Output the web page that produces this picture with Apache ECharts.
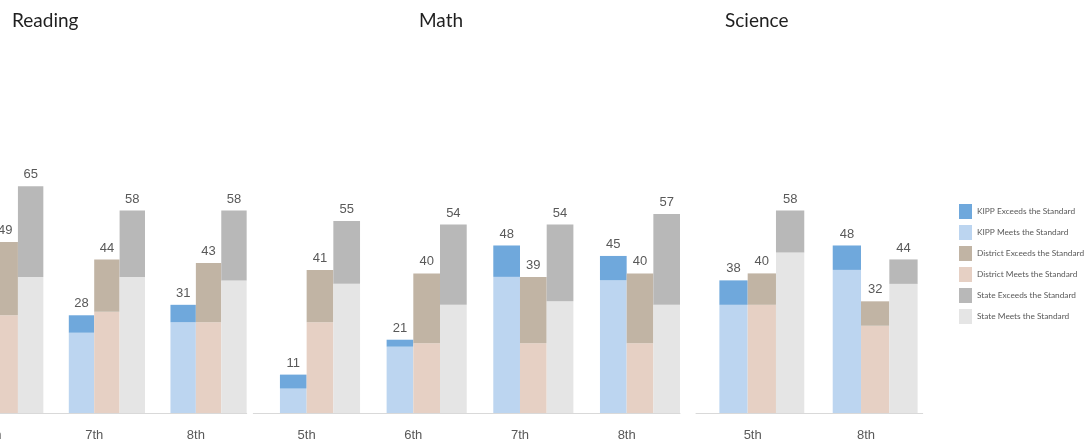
<!DOCTYPE html>
<html>
<head>
<meta charset="utf-8">
<script src="https://cdn.jsdelivr.net/npm/echarts@6/dist/echarts.min.js"></script>
<style>html,body{margin:0;padding:0;background:#fff;overflow:hidden;}#c{width:1147px;height:443px;margin-left:-59px;}</style>
</head>
<body>
<div id="c"></div>
<script>
// ---- Data ----
const seriesNames = ['KIPP Exceeds the Standard','KIPP Meets the Standard','District Exceeds the Standard','District Meets the Standard','State Exceeds the Standard','State Meets the Standard'];
const panelTitles = ['Reading','Math','Science'];

const categoriesReading = ['6th','7th','8th'];
const kippMeetsReading = [null, 23, 26];
const kippExceedsReading = [null, 5, 5];
const districtMeetsReading = [28, 29, 26];
const districtExceedsReading = [21, 15, 17];
const stateMeetsReading = [39, 39, 38];
const stateExceedsReading = [26, 19, 20];

const categoriesMath = ['5th','6th','7th','8th'];
const kippMeetsMath = [7, 19, 39, 38];
const kippExceedsMath = [4, 2, 9, 7];
const districtMeetsMath = [26, 20, 20, 20];
const districtExceedsMath = [15, 20, 19, 20];
const stateMeetsMath = [37, 31, 32, 31];
const stateExceedsMath = [18, 23, 22, 26];

const categoriesScience = ['5th','8th'];
const kippMeetsScience = [31, 41];
const kippExceedsScience = [7, 7];
const districtMeetsScience = [31, 25];
const districtExceedsScience = [9, 7];
const stateMeetsScience = [46, 37];
const stateExceedsScience = [12, 7];

// ---- Styling ----
const SHIFT = 59; // chart canvas is shifted left by this many px (reference is cropped)
const colors = {
  kippEx: '#6fa8dc', kippMe: '#bcd5f0',
  distEx: '#c1b4a4', distMe: '#e6d0c4',
  stateEx: '#b8b8b8', stateMe: '#e5e5e5'
};

const panels = [
  {cats: categoriesReading, km: kippMeetsReading, ke: kippExceedsReading, dm: districtMeetsReading, de: districtExceedsReading, sm: stateMeetsReading, se: stateExceedsReading,
   left: -58.3, width: 305, barW: 25.4, dummyW: 25.4},
  {cats: categoriesMath, km: kippMeetsMath, ke: kippExceedsMath, dm: districtMeetsMath, de: districtExceedsMath, sm: stateMeetsMath, se: stateExceedsMath,
   left: 253.3, width: 426.7, barW: 26.7, dummyW: 26.7},
  {cats: categoriesScience, km: kippMeetsScience, ke: kippExceedsScience, dm: districtMeetsScience, de: districtExceedsScience, sm: stateMeetsScience, se: stateExceedsScience,
   left: 696, width: 226.7, barW: 28.3, dummyW: 18.3}
];

const grids = [], xAxes = [], yAxes = [], series = [];
panels.forEach((p, i) => {
  grids.push({left: p.left + SHIFT, width: p.width, top: 64, height: 349, containLabel: false});
  xAxes.push({
    type: 'category', gridIndex: i, data: p.cats,
    axisTick: {show: false},
    axisLine: {lineStyle: {color: '#d9d9d9', width: 1}},
    axisLabel: {color: '#595959', fontSize: 13, fontFamily: 'Liberation Sans, Arial, sans-serif', margin: 16}
  });
  yAxes.push({type: 'value', gridIndex: i, min: 0, max: 100, show: false, splitLine: {show: false}});
  const base = {type: 'bar', xAxisIndex: i, yAxisIndex: i, barWidth: p.barW, barGap: '0%'};
  series.push(Object.assign({}, base, {name: '_gap' + i, data: p.cats.map(() => null), barWidth: p.dummyW, silent: true}));
  const mk = (name, data, stack, color, totalWith) => {
    const s = Object.assign({}, base, {name: name, stack: stack + i, data: data, itemStyle: {color: color}});
    if (totalWith) {
      s.label = {
        show: true, position: 'top', distance: 5,
        color: '#595959', fontSize: 13, fontFamily: 'Liberation Sans, Arial, sans-serif',
        formatter: (prm) => {
          const a = totalWith[prm.dataIndex], b = data[prm.dataIndex];
          if (a == null || b == null) return '';
          return String(a + b);
        }
      };
    }
    return s;
  };
  series.push(mk(seriesNames[1], p.km, 'k', colors.kippMe));
  series.push(mk(seriesNames[0], p.ke, 'k', colors.kippEx, p.km));
  series.push(mk(seriesNames[3], p.dm, 'd', colors.distMe));
  series.push(mk(seriesNames[2], p.de, 'd', colors.distEx, p.dm));
  series.push(mk(seriesNames[5], p.sm, 's', colors.stateMe));
  series.push(mk(seriesNames[4], p.se, 's', colors.stateEx, p.sm));
});

const titleLefts = [12, 419, 725];
const chart = echarts.init(document.getElementById('c'), null, {renderer: 'canvas'});
chart.setOption({
  animation: false,
  title: panelTitles.map((t, i) => ({
    text: t, left: titleLefts[i] + SHIFT, top: 11, padding: 0,
    textStyle: {fontFamily: 'Lato, sans-serif', fontSize: 19, fontWeight: 'normal', color: '#1f1f1f'}
  })),
  legend: {
    data: seriesNames, orient: 'vertical', left: 954 + SHIFT, top: 199,
    itemWidth: 13, itemHeight: 15, itemGap: 6, icon: 'rect', selectedMode: false,
    textStyle: {fontSize: 8.3, color: '#595959', fontFamily: 'Lato, sans-serif'}
  },
  grid: grids, xAxis: xAxes, yAxis: yAxes, series: series
});
</script>
</body>
</html>
